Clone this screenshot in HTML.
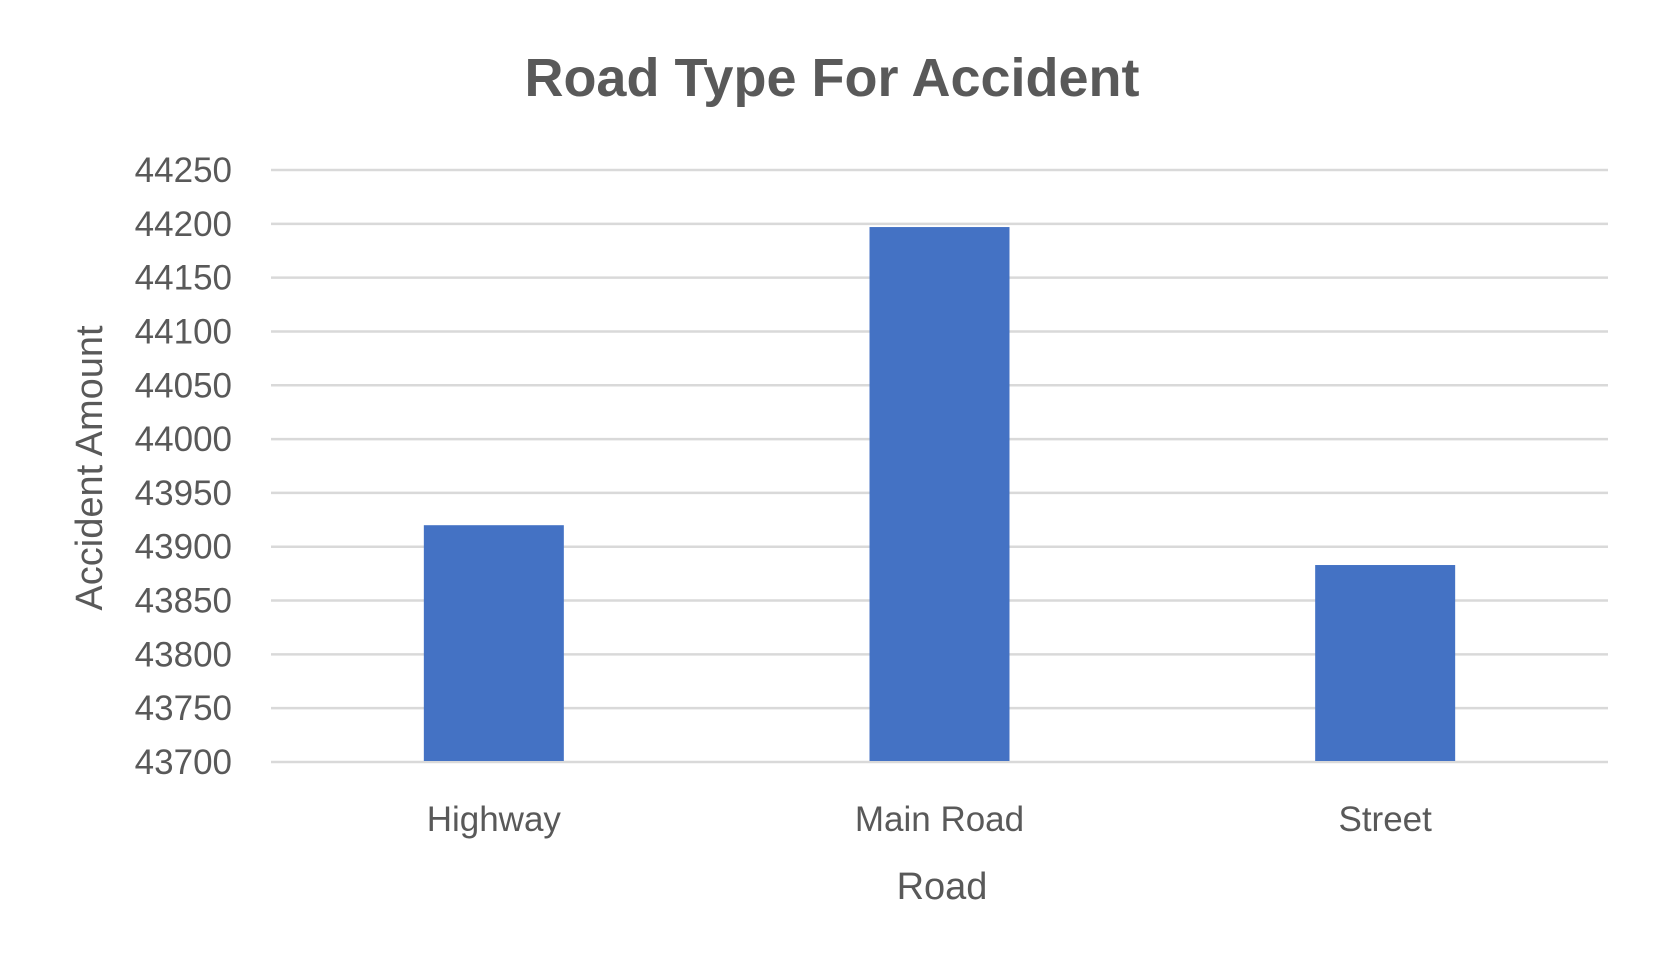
<!DOCTYPE html>
<html><head><meta charset="utf-8"><style>
html,body{margin:0;padding:0;background:#fff;}
svg{display:block;font-family:"Liberation Sans",sans-serif;}
</style></head><body>
<svg id="chart" width="1658" height="965">
<text x="832" y="96" text-anchor="middle" font-size="54" font-weight="bold" fill="#595959">Road Type For Accident</text>
<g id="grid"></g><g id="yticks"></g><g id="bars"></g><g id="xlabels"></g>
<text x="942" y="899" text-anchor="middle" font-size="38" fill="#595959">Road</text>
<text transform="translate(102,468) rotate(-90)" text-anchor="middle" font-size="38" fill="#595959">Accident Amount</text>
</svg>
<script>
const categories = ["Highway","Main Road","Street"];
const values = [43920, 44197, 43883];
const ticks = [43700,43750,43800,43850,43900,43950,44000,44050,44100,44150,44200,44250];
const ns="http://www.w3.org/2000/svg";
const L=271,R=1608,T=170,B=762,yMin=43700,yMax=44250;
const y=v=>B-(v-yMin)/(yMax-yMin)*(B-T);
const band=(R-L)/categories.length, bw=140;
const x=i=>L+band*(i+0.5);
function mk(tag,attrs,parent){const e=document.createElementNS(ns,tag);for(const k in attrs)e.setAttribute(k,attrs[k]);document.getElementById(parent).appendChild(e);return e;}
ticks.forEach(t=>{
  const g=mk('line',{x1:L,x2:R,y1:y(t),y2:y(t),stroke:'#d9d9d9','stroke-width':2.5},'grid');
  
  
  const tx=mk('text',{x:232,y:y(t)+12,'text-anchor':'end','font-size':35,fill:'#595959'},'yticks');
  tx.textContent=t;
  
  
});
values.forEach((v,i)=>{
  const r=mk('rect',{x:x(i)-bw/2,y:y(v),width:bw,height:B-y(v)-1,fill:'#4472c4'},'bars');
  
  
  const t=mk('text',{x:x(i),y:831,'text-anchor':'middle','font-size':35,fill:'#595959'},'xlabels');
  t.textContent=categories[i];
  
  
});
</script>
</body></html>
